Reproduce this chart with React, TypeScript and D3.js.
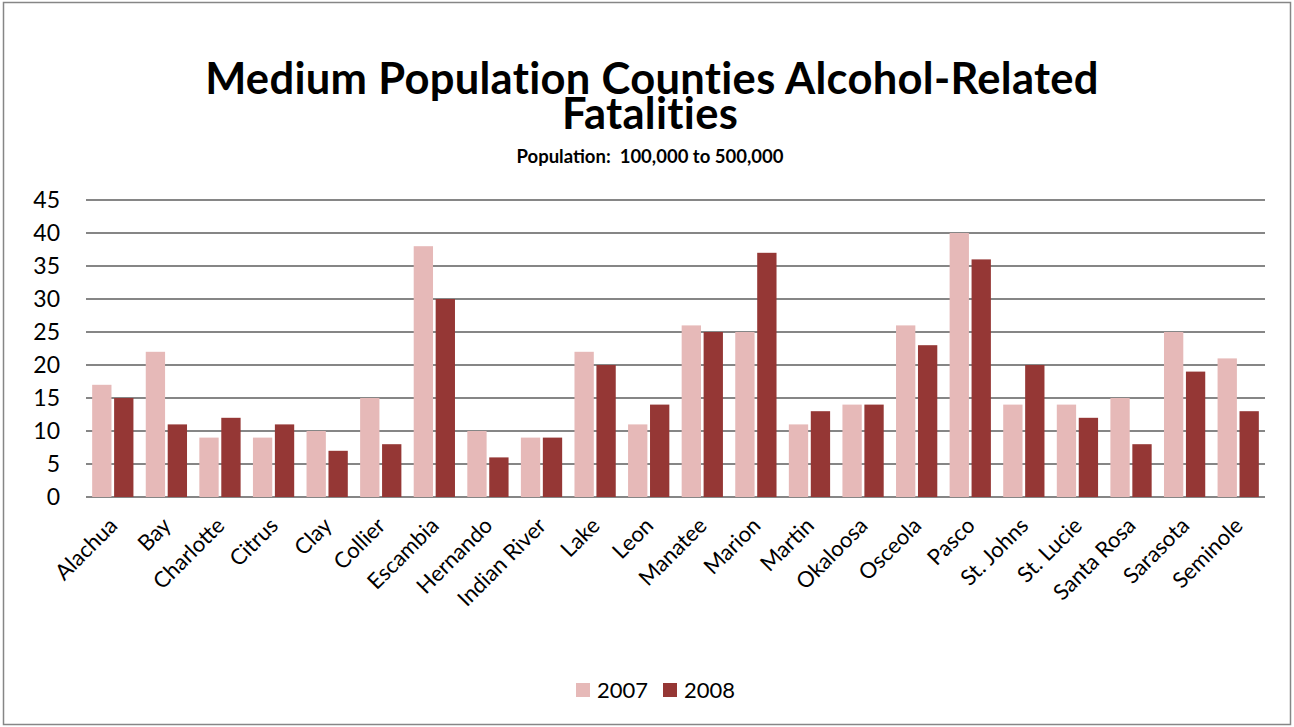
import React from "react";
import * as d3 from "d3";

const counties = ["Alachua","Bay","Charlotte","Citrus","Clay","Collier","Escambia","Hernando","Indian River","Lake","Leon","Manatee","Marion","Martin","Okaloosa","Osceola","Pasco","St. Johns","St. Lucie","Santa Rosa","Sarasota","Seminole"];
const values2007 = [17,22,9,9,10,15,38,10,9,22,11,26,25,11,14,26,40,14,14,15,25,21];
const values2008 = [15,11,12,11,7,8,30,6,9,20,14,25,37,13,14,23,36,20,12,8,19,13];
const series = ["2007","2008"];
const yTicks = [0,5,10,15,20,25,30,35,40,45];

const colors: Record<string,string> = { "2007": "#E6B9B8", "2008": "#953735" };
const FONT = "Lato, Carlito, 'Open Sans', sans-serif";

export default function App() {
  const W = 1294, H = 727;
  const left = 86, right = 1265, top = 200, bottom = 497;
  const x0 = d3.scaleBand<string>().domain(counties).range([left, right]).paddingInner(0.23).paddingOuter(0.115);
  const x1 = d3.scaleBand<string>().domain(series).range([0, x0.bandwidth()]).paddingInner(0.12);
  const y = d3.scaleLinear().domain([0, 45]).range([bottom, top]);
  const vals: Record<string, number[]> = { "2007": values2007, "2008": values2008 };
  const step = (right - left) / counties.length;

  return (
    <svg width={W} height={H} style={{ position: "absolute", left: 0, top: 0, display: "block" }} fontFamily={FONT}>
      <rect x={0} y={0} width={W} height={H} fill="#fff" />
      <rect x={3.5} y={2.5} width={W - 7} height={H - 5} fill="none" stroke="#868686" strokeWidth={1.5} />
      <text x={652} y={94} textAnchor="middle" fontSize={43.5} fontWeight="bold" letterSpacing={0.3}>Medium Population Counties Alcohol-Related</text>
      <text x={650} y={129} textAnchor="middle" fontSize={43.5} fontWeight="bold" letterSpacing={0.3}>Fatalities</text>
      <text x={650} y={163} textAnchor="middle" fontSize={18.5} fontWeight="bold" style={{ whiteSpace: "pre" }}>{"Population:\u00a0 100,000 to 500,000"}</text>
      {yTicks.map(t => (
        <g key={t}>
          <line x1={left} x2={right} y1={y(t)} y2={y(t)} stroke="#868686" strokeWidth={2} />
          <text x={60} y={y(t)} dy="0.36em" textAnchor="end" fontSize={23}>{t}</text>
        </g>
      ))}
      {counties.map((c, i) => (
        <g key={c}>
          {series.map(s => (
            <rect key={s} x={(x0(c) as number) + (x1(s) as number)} width={x1.bandwidth()} y={y(vals[s][i])} height={y(0) - y(vals[s][i])} fill={colors[s]} />
          ))}
          <text transform={`translate(${left + step * (i + 0.5) + 6},${bottom + 30}) rotate(-45)`} textAnchor="end" fontSize={22}>{c}</text>
        </g>
      ))}
      {series.map((s, i) => (
        <g key={s} transform={`translate(${576 + i * 87},0)`}>
          <rect x={0} y={683} width={14} height={14} fill={colors[s]} />
          <text x={21} y={698} fontSize={22}>{s}</text>
        </g>
      ))}
    </svg>
  );
}
